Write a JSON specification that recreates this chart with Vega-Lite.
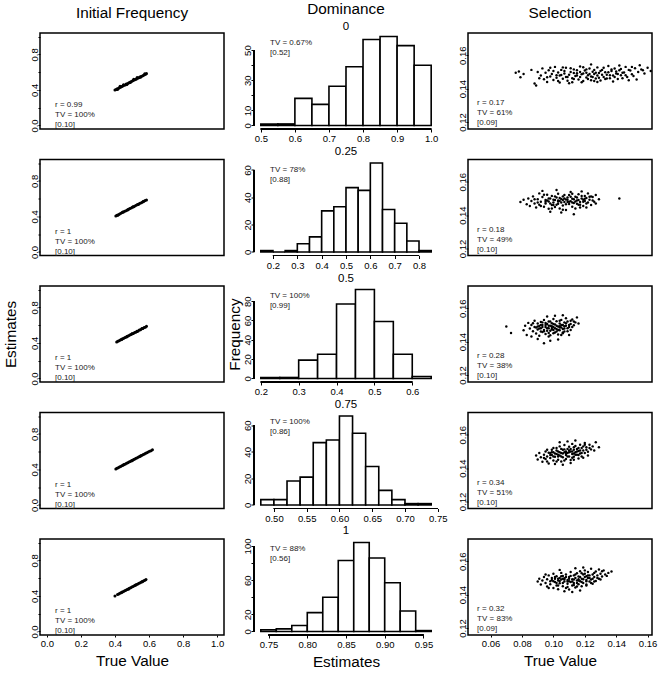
{
"$schema": "https://vega.github.io/schema/vega-lite/v6.json",
"background": "white",
"padding": {"left": 2, "top": 2, "right": 2, "bottom": 1},
"columns": 3,
"bounds": "flush",
"spacing": {"row": 30.5, "column": 30},
"config": {
 "font": "Liberation Sans",
 "view": {"stroke": "black", "strokeWidth": 1.5},
 "axis": {"domainColor": "black", "tickColor": "black", "labelColor": "black", "titleColor": "black", "labelFontSize": 9.5, "titleFontSize": 15.3, "titleFontWeight": "normal", "tickSize": 3, "grid": false, "labelFont": "Liberation Sans", "titleFont": "Liberation Sans", "domainWidth": 1.2, "tickWidth": 1, "labelFlush": false, "labelOverlap": false, "labelBound": false, "labelPadding": 1.5, "tickCount": 50},
 "axisY": {"labelAngle": -90, "labelAlign": "center", "labelBaseline": "alphabetic"},
 "title": {"font": "Liberation Sans", "fontWeight": "normal", "color": "black", "fontSize": 11.5, "anchor": "middle", "offset": 2, "subtitleFont": "Liberation Sans", "subtitleFontSize": 11.5, "subtitleColor": "black", "subtitlePadding": 0}
},
"datasets": {
 "freq1": [{"truth":0.400,"estimate":0.398},{"truth":0.407,"estimate":0.404},{"truth":0.413,"estimate":0.412},{"truth":0.420,"estimate":0.416},{"truth":0.426,"estimate":0.425},{"truth":0.433,"estimate":0.430},{"truth":0.440,"estimate":0.438},{"truth":0.446,"estimate":0.444},{"truth":0.453,"estimate":0.451},{"truth":0.460,"estimate":0.456},{"truth":0.466,"estimate":0.465},{"truth":0.473,"estimate":0.470},{"truth":0.480,"estimate":0.478},{"truth":0.486,"estimate":0.483},{"truth":0.493,"estimate":0.491},{"truth":0.500,"estimate":0.497},{"truth":0.506,"estimate":0.505},{"truth":0.513,"estimate":0.510},{"truth":0.520,"estimate":0.518},{"truth":0.526,"estimate":0.523},{"truth":0.533,"estimate":0.531},{"truth":0.540,"estimate":0.536},{"truth":0.546,"estimate":0.545},{"truth":0.553,"estimate":0.550},{"truth":0.560,"estimate":0.557},{"truth":0.566,"estimate":0.563},{"truth":0.573,"estimate":0.571},{"truth":0.580,"estimate":0.576},{"truth":0.585,"estimate":0.583},{"truth":0.430,"estimate":0.440},{"truth":0.470,"estimate":0.462},{"truth":0.510,"estimate":0.520},{"truth":0.550,"estimate":0.541},{"truth":0.450,"estimate":0.459},{"truth":0.490,"estimate":0.482},{"truth":0.530,"estimate":0.539},{"truth":0.415,"estimate":0.405},{"truth":0.575,"estimate":0.582}],
 "freq2": [{"truth":0.405,"estimate":0.404},{"truth":0.412,"estimate":0.413},{"truth":0.420,"estimate":0.419},{"truth":0.427,"estimate":0.428},{"truth":0.435,"estimate":0.434},{"truth":0.442,"estimate":0.443},{"truth":0.450,"estimate":0.449},{"truth":0.457,"estimate":0.458},{"truth":0.465,"estimate":0.464},{"truth":0.472,"estimate":0.473},{"truth":0.480,"estimate":0.479},{"truth":0.487,"estimate":0.488},{"truth":0.495,"estimate":0.494},{"truth":0.502,"estimate":0.503},{"truth":0.510,"estimate":0.509},{"truth":0.517,"estimate":0.518},{"truth":0.525,"estimate":0.524},{"truth":0.532,"estimate":0.533},{"truth":0.540,"estimate":0.539},{"truth":0.547,"estimate":0.548},{"truth":0.555,"estimate":0.554},{"truth":0.562,"estimate":0.563},{"truth":0.570,"estimate":0.569},{"truth":0.577,"estimate":0.578},{"truth":0.585,"estimate":0.584},{"truth":0.416,"estimate":0.414},{"truth":0.446,"estimate":0.448},{"truth":0.476,"estimate":0.474},{"truth":0.506,"estimate":0.508},{"truth":0.536,"estimate":0.534},{"truth":0.566,"estimate":0.568}],
 "freq3": [{"truth":0.410,"estimate":0.409},{"truth":0.417,"estimate":0.418},{"truth":0.424,"estimate":0.423},{"truth":0.431,"estimate":0.432},{"truth":0.438,"estimate":0.437},{"truth":0.445,"estimate":0.446},{"truth":0.452,"estimate":0.451},{"truth":0.459,"estimate":0.460},{"truth":0.466,"estimate":0.465},{"truth":0.473,"estimate":0.474},{"truth":0.480,"estimate":0.479},{"truth":0.487,"estimate":0.488},{"truth":0.494,"estimate":0.493},{"truth":0.501,"estimate":0.502},{"truth":0.508,"estimate":0.507},{"truth":0.515,"estimate":0.516},{"truth":0.522,"estimate":0.521},{"truth":0.529,"estimate":0.530},{"truth":0.536,"estimate":0.535},{"truth":0.543,"estimate":0.544},{"truth":0.550,"estimate":0.549},{"truth":0.557,"estimate":0.558},{"truth":0.564,"estimate":0.563},{"truth":0.571,"estimate":0.572},{"truth":0.578,"estimate":0.577},{"truth":0.585,"estimate":0.586},{"truth":0.440,"estimate":0.442},{"truth":0.470,"estimate":0.468},{"truth":0.500,"estimate":0.502},{"truth":0.530,"estimate":0.528},{"truth":0.560,"estimate":0.562}],
 "freq4": [{"truth":0.405,"estimate":0.404},{"truth":0.412,"estimate":0.413},{"truth":0.419,"estimate":0.418},{"truth":0.426,"estimate":0.427},{"truth":0.433,"estimate":0.432},{"truth":0.440,"estimate":0.441},{"truth":0.447,"estimate":0.446},{"truth":0.454,"estimate":0.455},{"truth":0.461,"estimate":0.460},{"truth":0.468,"estimate":0.469},{"truth":0.475,"estimate":0.474},{"truth":0.482,"estimate":0.483},{"truth":0.489,"estimate":0.488},{"truth":0.496,"estimate":0.497},{"truth":0.503,"estimate":0.502},{"truth":0.510,"estimate":0.511},{"truth":0.517,"estimate":0.516},{"truth":0.524,"estimate":0.525},{"truth":0.531,"estimate":0.530},{"truth":0.538,"estimate":0.539},{"truth":0.545,"estimate":0.544},{"truth":0.552,"estimate":0.553},{"truth":0.559,"estimate":0.558},{"truth":0.566,"estimate":0.567},{"truth":0.573,"estimate":0.572},{"truth":0.580,"estimate":0.581},{"truth":0.587,"estimate":0.586},{"truth":0.595,"estimate":0.596},{"truth":0.603,"estimate":0.604},{"truth":0.612,"estimate":0.611},{"truth":0.620,"estimate":0.621},{"truth":0.450,"estimate":0.452},{"truth":0.500,"estimate":0.498},{"truth":0.550,"estimate":0.552}],
 "freq5": [{"truth":0.400,"estimate":0.398},{"truth":0.415,"estimate":0.416},{"truth":0.422,"estimate":0.421},{"truth":0.429,"estimate":0.430},{"truth":0.436,"estimate":0.435},{"truth":0.443,"estimate":0.444},{"truth":0.450,"estimate":0.449},{"truth":0.457,"estimate":0.458},{"truth":0.464,"estimate":0.463},{"truth":0.471,"estimate":0.472},{"truth":0.478,"estimate":0.477},{"truth":0.485,"estimate":0.486},{"truth":0.492,"estimate":0.491},{"truth":0.499,"estimate":0.500},{"truth":0.506,"estimate":0.505},{"truth":0.513,"estimate":0.514},{"truth":0.520,"estimate":0.519},{"truth":0.527,"estimate":0.528},{"truth":0.534,"estimate":0.533},{"truth":0.541,"estimate":0.542},{"truth":0.548,"estimate":0.547},{"truth":0.555,"estimate":0.556},{"truth":0.562,"estimate":0.561},{"truth":0.569,"estimate":0.570},{"truth":0.576,"estimate":0.575},{"truth":0.582,"estimate":0.583},{"truth":0.440,"estimate":0.442},{"truth":0.480,"estimate":0.478},{"truth":0.520,"estimate":0.522},{"truth":0.560,"estimate":0.558}],
 "hist1": [{"bin_start":0.50,"bin_end":0.55,"count":1},{"bin_start":0.55,"bin_end":0.60,"count":1},{"bin_start":0.60,"bin_end":0.65,"count":18},{"bin_start":0.65,"bin_end":0.70,"count":14},{"bin_start":0.70,"bin_end":0.75,"count":26},{"bin_start":0.75,"bin_end":0.80,"count":39},{"bin_start":0.80,"bin_end":0.85,"count":57},{"bin_start":0.85,"bin_end":0.90,"count":59},{"bin_start":0.90,"bin_end":0.95,"count":53},{"bin_start":0.95,"bin_end":1.00,"count":40}],
 "hist2": [{"bin_start":0.15,"bin_end":0.20,"count":1},{"bin_start":0.20,"bin_end":0.25,"count":0},{"bin_start":0.25,"bin_end":0.30,"count":1},{"bin_start":0.30,"bin_end":0.35,"count":6},{"bin_start":0.35,"bin_end":0.40,"count":11},{"bin_start":0.40,"bin_end":0.45,"count":30},{"bin_start":0.45,"bin_end":0.50,"count":33},{"bin_start":0.50,"bin_end":0.55,"count":47},{"bin_start":0.55,"bin_end":0.60,"count":45},{"bin_start":0.60,"bin_end":0.65,"count":65},{"bin_start":0.65,"bin_end":0.70,"count":31},{"bin_start":0.70,"bin_end":0.75,"count":21},{"bin_start":0.75,"bin_end":0.80,"count":8},{"bin_start":0.80,"bin_end":0.85,"count":1}],
 "hist3": [{"bin_start":0.20,"bin_end":0.25,"count":1},{"bin_start":0.25,"bin_end":0.30,"count":1},{"bin_start":0.30,"bin_end":0.35,"count":19},{"bin_start":0.35,"bin_end":0.40,"count":25},{"bin_start":0.40,"bin_end":0.45,"count":77},{"bin_start":0.45,"bin_end":0.50,"count":92},{"bin_start":0.50,"bin_end":0.55,"count":59},{"bin_start":0.55,"bin_end":0.60,"count":25},{"bin_start":0.60,"bin_end":0.65,"count":2}],
 "hist4": [{"bin_start":0.48,"bin_end":0.50,"count":4},{"bin_start":0.50,"bin_end":0.52,"count":4},{"bin_start":0.52,"bin_end":0.54,"count":18},{"bin_start":0.54,"bin_end":0.56,"count":21},{"bin_start":0.56,"bin_end":0.58,"count":47},{"bin_start":0.58,"bin_end":0.60,"count":49},{"bin_start":0.60,"bin_end":0.62,"count":67},{"bin_start":0.62,"bin_end":0.64,"count":54},{"bin_start":0.64,"bin_end":0.66,"count":29},{"bin_start":0.66,"bin_end":0.68,"count":11},{"bin_start":0.68,"bin_end":0.70,"count":4},{"bin_start":0.70,"bin_end":0.72,"count":1},{"bin_start":0.72,"bin_end":0.74,"count":1}],
 "hist5": [{"bin_start":0.74,"bin_end":0.76,"count":2},{"bin_start":0.76,"bin_end":0.78,"count":3},{"bin_start":0.78,"bin_end":0.80,"count":7},{"bin_start":0.80,"bin_end":0.82,"count":22},{"bin_start":0.82,"bin_end":0.84,"count":40},{"bin_start":0.84,"bin_end":0.86,"count":83},{"bin_start":0.86,"bin_end":0.88,"count":104},{"bin_start":0.88,"bin_end":0.90,"count":86},{"bin_start":0.90,"bin_end":0.92,"count":57},{"bin_start":0.92,"bin_end":0.94,"count":24},{"bin_start":0.94,"bin_end":0.96,"count":1}],
 "sel1": [{"truth":0.076,"estimate":0.1495},{"truth":0.078,"estimate":0.1502},{"truth":0.079,"estimate":0.1468},{"truth":0.081,"estimate":0.1488},{"truth":0.088,"estimate":0.1430},{"truth":0.089,"estimate":0.1418},{"truth":0.092,"estimate":0.1478},{"truth":0.093,"estimate":0.1521},{"truth":0.094,"estimate":0.1456},{"truth":0.095,"estimate":0.1495},{"truth":0.096,"estimate":0.1440},{"truth":0.097,"estimate":0.1510},{"truth":0.098,"estimate":0.1472},{"truth":0.099,"estimate":0.1488},{"truth":0.100,"estimate":0.1452},{"truth":0.101,"estimate":0.1530},{"truth":0.102,"estimate":0.1465},{"truth":0.103,"estimate":0.1497},{"truth":0.104,"estimate":0.1478},{"truth":0.104,"estimate":0.1436},{"truth":0.105,"estimate":0.1512},{"truth":0.106,"estimate":0.1459},{"truth":0.107,"estimate":0.1490},{"truth":0.108,"estimate":0.1470},{"truth":0.108,"estimate":0.1525},{"truth":0.109,"estimate":0.1447},{"truth":0.110,"estimate":0.1483},{"truth":0.111,"estimate":0.1500},{"truth":0.112,"estimate":0.1462},{"truth":0.112,"estimate":0.1438},{"truth":0.113,"estimate":0.1515},{"truth":0.114,"estimate":0.1476},{"truth":0.115,"estimate":0.1492},{"truth":0.116,"estimate":0.1455},{"truth":0.117,"estimate":0.1532},{"truth":0.117,"estimate":0.1470},{"truth":0.118,"estimate":0.1486},{"truth":0.119,"estimate":0.1445},{"truth":0.120,"estimate":0.1508},{"truth":0.121,"estimate":0.1466},{"truth":0.121,"estimate":0.1495},{"truth":0.122,"estimate":0.1480},{"truth":0.123,"estimate":0.1520},{"truth":0.124,"estimate":0.1450},{"truth":0.124,"estimate":0.1472},{"truth":0.125,"estimate":0.1501},{"truth":0.126,"estimate":0.1488},{"truth":0.127,"estimate":0.1460},{"truth":0.128,"estimate":0.1527},{"truth":0.128,"estimate":0.1478},{"truth":0.129,"estimate":0.1494},{"truth":0.130,"estimate":0.1448},{"truth":0.131,"estimate":0.1512},{"truth":0.132,"estimate":0.1470},{"truth":0.133,"estimate":0.1498},{"truth":0.134,"estimate":0.1483},{"truth":0.135,"estimate":0.1535},{"truth":0.136,"estimate":0.1462},{"truth":0.137,"estimate":0.1505},{"truth":0.138,"estimate":0.1478},{"truth":0.139,"estimate":0.1520},{"truth":0.140,"estimate":0.1490},{"truth":0.141,"estimate":0.1458},{"truth":0.142,"estimate":0.1510},{"truth":0.143,"estimate":0.1480},{"truth":0.145,"estimate":0.1497},{"truth":0.146,"estimate":0.1530},{"truth":0.147,"estimate":0.1470},{"truth":0.149,"estimate":0.1508},{"truth":0.150,"estimate":0.1486},{"truth":0.152,"estimate":0.1522},{"truth":0.153,"estimate":0.1455},{"truth":0.154,"estimate":0.1500},{"truth":0.156,"estimate":0.1515},{"truth":0.158,"estimate":0.1490},{"truth":0.160,"estimate":0.1525},{"truth":0.162,"estimate":0.1505},{"truth":0.090,"estimate":0.1500},{"truth":0.091,"estimate":0.1462},{"truth":0.086,"estimate":0.1512},{"truth":0.100,"estimate":0.1505},{"truth":0.106,"estimate":0.1527},{"truth":0.110,"estimate":0.1432},{"truth":0.115,"estimate":0.1510},{"truth":0.119,"estimate":0.1528},{"truth":0.126,"estimate":0.1445},{"truth":0.133,"estimate":0.1458},{"truth":0.138,"estimate":0.1442},{"truth":0.144,"estimate":0.1462},{"truth":0.148,"estimate":0.1450},{"truth":0.103,"estimate":0.1445},{"truth":0.113,"estimate":0.1493},{"truth":0.105,"estimate":0.1482},{"truth":0.107,"estimate":0.1505},{"truth":0.109,"estimate":0.1470},{"truth":0.111,"estimate":0.1522},{"truth":0.113,"estimate":0.1458},{"truth":0.115,"estimate":0.1478},{"truth":0.117,"estimate":0.1500},{"truth":0.119,"estimate":0.1490},{"truth":0.121,"estimate":0.1515},{"truth":0.122,"estimate":0.1458},{"truth":0.123,"estimate":0.1487},{"truth":0.125,"estimate":0.1470},{"truth":0.126,"estimate":0.1512},{"truth":0.127,"estimate":0.1495},{"truth":0.129,"estimate":0.1465},{"truth":0.130,"estimate":0.1505},{"truth":0.131,"estimate":0.1483},{"truth":0.132,"estimate":0.1525},{"truth":0.134,"estimate":0.1460},{"truth":0.135,"estimate":0.1498},{"truth":0.136,"estimate":0.1480},{"truth":0.137,"estimate":0.1515},{"truth":0.139,"estimate":0.1470},{"truth":0.140,"estimate":0.1502},{"truth":0.141,"estimate":0.1488},{"truth":0.143,"estimate":0.1518},{"truth":0.144,"estimate":0.1495},{"truth":0.146,"estimate":0.1480},{"truth":0.148,"estimate":0.1512},{"truth":0.150,"estimate":0.1530},{"truth":0.151,"estimate":0.1475},{"truth":0.155,"estimate":0.1540},{"truth":0.157,"estimate":0.1510},{"truth":0.098,"estimate":0.1525},{"truth":0.102,"estimate":0.1480},{"truth":0.096,"estimate":0.1468},{"truth":0.118,"estimate":0.1438},{"truth":0.128,"estimate":0.1440},{"truth":0.142,"estimate":0.1538},{"truth":0.124,"estimate":0.1545}],
 "sel2": [{"truth":0.079,"estimate":0.1478},{"truth":0.081,"estimate":0.1492},{"truth":0.083,"estimate":0.1465},{"truth":0.084,"estimate":0.1500},{"truth":0.085,"estimate":0.1455},{"truth":0.086,"estimate":0.1485},{"truth":0.087,"estimate":0.1512},{"truth":0.088,"estimate":0.1470},{"truth":0.089,"estimate":0.1445},{"truth":0.090,"estimate":0.1495},{"truth":0.091,"estimate":0.1530},{"truth":0.091,"estimate":0.1462},{"truth":0.092,"estimate":0.1480},{"truth":0.093,"estimate":0.1508},{"truth":0.094,"estimate":0.1450},{"truth":0.095,"estimate":0.1490},{"truth":0.095,"estimate":0.1470},{"truth":0.096,"estimate":0.1522},{"truth":0.097,"estimate":0.1438},{"truth":0.097,"estimate":0.1482},{"truth":0.098,"estimate":0.1500},{"truth":0.099,"estimate":0.1460},{"truth":0.099,"estimate":0.1515},{"truth":0.100,"estimate":0.1475},{"truth":0.101,"estimate":0.1490},{"truth":0.101,"estimate":0.1448},{"truth":0.102,"estimate":0.1505},{"truth":0.103,"estimate":0.1468},{"truth":0.103,"estimate":0.1528},{"truth":0.104,"estimate":0.1485},{"truth":0.104,"estimate":0.1440},{"truth":0.105,"estimate":0.1497},{"truth":0.106,"estimate":0.1458},{"truth":0.106,"estimate":0.1512},{"truth":0.107,"estimate":0.1478},{"truth":0.108,"estimate":0.1493},{"truth":0.108,"estimate":0.1430},{"truth":0.109,"estimate":0.1505},{"truth":0.110,"estimate":0.1466},{"truth":0.110,"estimate":0.1520},{"truth":0.111,"estimate":0.1483},{"truth":0.112,"estimate":0.1450},{"truth":0.112,"estimate":0.1498},{"truth":0.113,"estimate":0.1472},{"truth":0.114,"estimate":0.1510},{"truth":0.114,"estimate":0.1440},{"truth":0.115,"estimate":0.1488},{"truth":0.116,"estimate":0.1462},{"truth":0.116,"estimate":0.1525},{"truth":0.117,"estimate":0.1478},{"truth":0.118,"estimate":0.1500},{"truth":0.119,"estimate":0.1455},{"truth":0.120,"estimate":0.1515},{"truth":0.120,"estimate":0.1485},{"truth":0.121,"estimate":0.1470},{"truth":0.122,"estimate":0.1530},{"truth":0.123,"estimate":0.1492},{"truth":0.124,"estimate":0.1460},{"truth":0.125,"estimate":0.1508},{"truth":0.126,"estimate":0.1480},{"truth":0.127,"estimate":0.1520},{"truth":0.129,"estimate":0.1495},{"truth":0.142,"estimate":0.1500},{"truth":0.093,"estimate":0.1545},{"truth":0.102,"estimate":0.1550},{"truth":0.111,"estimate":0.1538},{"truth":0.118,"estimate":0.1542},{"truth":0.098,"estimate":0.1420},{"truth":0.105,"estimate":0.1415},{"truth":0.113,"estimate":0.1405},{"truth":0.100,"estimate":0.1460},{"truth":0.107,"estimate":0.1500},{"truth":0.115,"estimate":0.1468},{"truth":0.096,"estimate":0.1488},{"truth":0.109,"estimate":0.1478},{"truth":0.119,"estimate":0.1492},{"truth":0.124,"estimate":0.1512},{"truth":0.088,"estimate":0.1495},{"truth":0.121,"estimate":0.1445},{"truth":0.103,"estimate":0.1482},{"truth":0.095,"estimate":0.1480},{"truth":0.097,"estimate":0.1500},{"truth":0.098,"estimate":0.1470},{"truth":0.100,"estimate":0.1492},{"truth":0.101,"estimate":0.1512},{"truth":0.102,"estimate":0.1462},{"truth":0.103,"estimate":0.1488},{"truth":0.104,"estimate":0.1503},{"truth":0.105,"estimate":0.1475},{"truth":0.106,"estimate":0.1490},{"truth":0.107,"estimate":0.1520},{"truth":0.108,"estimate":0.1465},{"truth":0.109,"estimate":0.1492},{"truth":0.110,"estimate":0.1480},{"truth":0.111,"estimate":0.1510},{"truth":0.112,"estimate":0.1475},{"truth":0.113,"estimate":0.1495},{"truth":0.114,"estimate":0.1482},{"truth":0.115,"estimate":0.1505},{"truth":0.116,"estimate":0.1490},{"truth":0.117,"estimate":0.1462},{"truth":0.118,"estimate":0.1515},{"truth":0.119,"estimate":0.1480},{"truth":0.120,"estimate":0.1498},{"truth":0.122,"estimate":0.1475},{"truth":0.123,"estimate":0.1510},{"truth":0.125,"estimate":0.1488},{"truth":0.127,"estimate":0.1470},{"truth":0.090,"estimate":0.1475},{"truth":0.092,"estimate":0.1455},{"truth":0.094,"estimate":0.1522},{"truth":0.099,"estimate":0.1440},{"truth":0.106,"estimate":0.1432},{"truth":0.112,"estimate":0.1528},{"truth":0.117,"estimate":0.1445},{"truth":0.121,"estimate":0.1502}],
 "sel3": [{"truth":0.070,"estimate":0.1490},{"truth":0.073,"estimate":0.1452},{"truth":0.081,"estimate":0.1468},{"truth":0.082,"estimate":0.1495},{"truth":0.083,"estimate":0.1440},{"truth":0.084,"estimate":0.1512},{"truth":0.085,"estimate":0.1478},{"truth":0.086,"estimate":0.1430},{"truth":0.086,"estimate":0.1500},{"truth":0.087,"estimate":0.1462},{"truth":0.088,"estimate":0.1488},{"truth":0.088,"estimate":0.1525},{"truth":0.089,"estimate":0.1448},{"truth":0.090,"estimate":0.1472},{"truth":0.090,"estimate":0.1508},{"truth":0.091,"estimate":0.1493},{"truth":0.091,"estimate":0.1435},{"truth":0.092,"estimate":0.1480},{"truth":0.092,"estimate":0.1518},{"truth":0.093,"estimate":0.1458},{"truth":0.093,"estimate":0.1500},{"truth":0.094,"estimate":0.1470},{"truth":0.094,"estimate":0.1530},{"truth":0.095,"estimate":0.1488},{"truth":0.095,"estimate":0.1445},{"truth":0.096,"estimate":0.1505},{"truth":0.096,"estimate":0.1465},{"truth":0.097,"estimate":0.1520},{"truth":0.097,"estimate":0.1480},{"truth":0.098,"estimate":0.1495},{"truth":0.098,"estimate":0.1438},{"truth":0.099,"estimate":0.1510},{"truth":0.099,"estimate":0.1472},{"truth":0.100,"estimate":0.1535},{"truth":0.100,"estimate":0.1488},{"truth":0.101,"estimate":0.1455},{"truth":0.101,"estimate":0.1502},{"truth":0.102,"estimate":0.1475},{"truth":0.102,"estimate":0.1522},{"truth":0.103,"estimate":0.1490},{"truth":0.103,"estimate":0.1442},{"truth":0.104,"estimate":0.1508},{"truth":0.104,"estimate":0.1468},{"truth":0.105,"estimate":0.1530},{"truth":0.105,"estimate":0.1485},{"truth":0.106,"estimate":0.1500},{"truth":0.106,"estimate":0.1450},{"truth":0.107,"estimate":0.1515},{"truth":0.107,"estimate":0.1478},{"truth":0.108,"estimate":0.1540},{"truth":0.108,"estimate":0.1495},{"truth":0.109,"estimate":0.1462},{"truth":0.109,"estimate":0.1520},{"truth":0.110,"estimate":0.1488},{"truth":0.111,"estimate":0.1505},{"truth":0.111,"estimate":0.1470},{"truth":0.112,"estimate":0.1532},{"truth":0.113,"estimate":0.1498},{"truth":0.114,"estimate":0.1515},{"truth":0.115,"estimate":0.1545},{"truth":0.116,"estimate":0.1508},{"truth":0.094,"estimate":0.1390},{"truth":0.098,"estimate":0.1405},{"truth":0.090,"estimate":0.1415},{"truth":0.103,"estimate":0.1412},{"truth":0.096,"estimate":0.1550},{"truth":0.101,"estimate":0.1555},{"truth":0.106,"estimate":0.1558},{"truth":0.089,"estimate":0.1485},{"truth":0.092,"estimate":0.1460},{"truth":0.097,"estimate":0.1452},{"truth":0.100,"estimate":0.1470},{"truth":0.104,"estimate":0.1492},{"truth":0.107,"estimate":0.1460},{"truth":0.110,"estimate":0.1440},{"truth":0.087,"estimate":0.1510},{"truth":0.095,"estimate":0.1512},{"truth":0.099,"estimate":0.1492},{"truth":0.102,"estimate":0.1460},{"truth":0.105,"estimate":0.1440},{"truth":0.091,"estimate":0.1478},{"truth":0.092,"estimate":0.1500},{"truth":0.093,"estimate":0.1488},{"truth":0.094,"estimate":0.1462},{"truth":0.095,"estimate":0.1500},{"truth":0.096,"estimate":0.1480},{"truth":0.097,"estimate":0.1495},{"truth":0.098,"estimate":0.1465},{"truth":0.099,"estimate":0.1482},{"truth":0.100,"estimate":0.1505},{"truth":0.101,"estimate":0.1480},{"truth":0.102,"estimate":0.1495},{"truth":0.103,"estimate":0.1470},{"truth":0.104,"estimate":0.1485},{"truth":0.105,"estimate":0.1500},{"truth":0.106,"estimate":0.1475},{"truth":0.107,"estimate":0.1492},{"truth":0.108,"estimate":0.1510},{"truth":0.109,"estimate":0.1480},{"truth":0.110,"estimate":0.1500},{"truth":0.112,"estimate":0.1488},{"truth":0.113,"estimate":0.1520},{"truth":0.100,"estimate":0.1450},{"truth":0.097,"estimate":0.1430},{"truth":0.104,"estimate":0.1525},{"truth":0.093,"estimate":0.1515},{"truth":0.090,"estimate":0.1490},{"truth":0.111,"estimate":0.1525},{"truth":0.106,"estimate":0.1455},{"truth":0.098,"estimate":0.1520}],
 "sel4": [{"truth":0.089,"estimate":0.1475},{"truth":0.090,"estimate":0.1452},{"truth":0.091,"estimate":0.1490},{"truth":0.092,"estimate":0.1465},{"truth":0.093,"estimate":0.1438},{"truth":0.094,"estimate":0.1480},{"truth":0.095,"estimate":0.1500},{"truth":0.095,"estimate":0.1455},{"truth":0.096,"estimate":0.1470},{"truth":0.097,"estimate":0.1428},{"truth":0.097,"estimate":0.1492},{"truth":0.098,"estimate":0.1460},{"truth":0.099,"estimate":0.1510},{"truth":0.099,"estimate":0.1478},{"truth":0.100,"estimate":0.1445},{"truth":0.100,"estimate":0.1495},{"truth":0.101,"estimate":0.1468},{"truth":0.102,"estimate":0.1520},{"truth":0.102,"estimate":0.1485},{"truth":0.103,"estimate":0.1450},{"truth":0.103,"estimate":0.1500},{"truth":0.104,"estimate":0.1475},{"truth":0.104,"estimate":0.1530},{"truth":0.105,"estimate":0.1490},{"truth":0.105,"estimate":0.1440},{"truth":0.106,"estimate":0.1510},{"truth":0.106,"estimate":0.1465},{"truth":0.107,"estimate":0.1495},{"truth":0.107,"estimate":0.1538},{"truth":0.108,"estimate":0.1478},{"truth":0.108,"estimate":0.1455},{"truth":0.109,"estimate":0.1515},{"truth":0.109,"estimate":0.1490},{"truth":0.110,"estimate":0.1470},{"truth":0.110,"estimate":0.1528},{"truth":0.111,"estimate":0.1500},{"truth":0.111,"estimate":0.1448},{"truth":0.112,"estimate":0.1485},{"truth":0.112,"estimate":0.1545},{"truth":0.113,"estimate":0.1510},{"truth":0.113,"estimate":0.1468},{"truth":0.114,"estimate":0.1495},{"truth":0.114,"estimate":0.1532},{"truth":0.115,"estimate":0.1480},{"truth":0.115,"estimate":0.1515},{"truth":0.116,"estimate":0.1458},{"truth":0.116,"estimate":0.1502},{"truth":0.117,"estimate":0.1540},{"truth":0.117,"estimate":0.1488},{"truth":0.118,"estimate":0.1520},{"truth":0.118,"estimate":0.1470},{"truth":0.119,"estimate":0.1505},{"truth":0.120,"estimate":0.1550},{"truth":0.120,"estimate":0.1490},{"truth":0.121,"estimate":0.1525},{"truth":0.122,"estimate":0.1498},{"truth":0.123,"estimate":0.1540},{"truth":0.124,"estimate":0.1512},{"truth":0.125,"estimate":0.1530},{"truth":0.126,"estimate":0.1505},{"truth":0.127,"estimate":0.1555},{"truth":0.129,"estimate":0.1525},{"truth":0.101,"estimate":0.1425},{"truth":0.106,"estimate":0.1420},{"truth":0.111,"estimate":0.1430},{"truth":0.104,"estimate":0.1555},{"truth":0.109,"estimate":0.1560},{"truth":0.114,"estimate":0.1565},{"truth":0.098,"estimate":0.1490},{"truth":0.103,"estimate":0.1470},{"truth":0.108,"estimate":0.1500},{"truth":0.113,"estimate":0.1488},{"truth":0.116,"estimate":0.1478},{"truth":0.119,"estimate":0.1462},{"truth":0.110,"estimate":0.1505},{"truth":0.105,"estimate":0.1515},{"truth":0.100,"estimate":0.1520},{"truth":0.096,"estimate":0.1510},{"truth":0.122,"estimate":0.1475},{"truth":0.112,"estimate":0.1462},{"truth":0.098,"estimate":0.1478},{"truth":0.099,"estimate":0.1495},{"truth":0.100,"estimate":0.1470},{"truth":0.101,"estimate":0.1488},{"truth":0.102,"estimate":0.1505},{"truth":0.103,"estimate":0.1480},{"truth":0.104,"estimate":0.1495},{"truth":0.105,"estimate":0.1470},{"truth":0.106,"estimate":0.1488},{"truth":0.107,"estimate":0.1512},{"truth":0.108,"estimate":0.1490},{"truth":0.109,"estimate":0.1470},{"truth":0.110,"estimate":0.1495},{"truth":0.111,"estimate":0.1515},{"truth":0.112,"estimate":0.1500},{"truth":0.113,"estimate":0.1525},{"truth":0.114,"estimate":0.1480},{"truth":0.115,"estimate":0.1500},{"truth":0.116,"estimate":0.1520},{"truth":0.117,"estimate":0.1505},{"truth":0.118,"estimate":0.1490},{"truth":0.119,"estimate":0.1530},{"truth":0.121,"estimate":0.1510},{"truth":0.123,"estimate":0.1520},{"truth":0.094,"estimate":0.1460},{"truth":0.096,"estimate":0.1440},{"truth":0.102,"estimate":0.1440},{"truth":0.107,"estimate":0.1445},{"truth":0.113,"estimate":0.1450},{"truth":0.120,"estimate":0.1540}],
 "sel5": [{"truth":0.090,"estimate":0.1478},{"truth":0.091,"estimate":0.1495},{"truth":0.092,"estimate":0.1460},{"truth":0.093,"estimate":0.1485},{"truth":0.094,"estimate":0.1505},{"truth":0.095,"estimate":0.1470},{"truth":0.096,"estimate":0.1448},{"truth":0.096,"estimate":0.1492},{"truth":0.097,"estimate":0.1515},{"truth":0.098,"estimate":0.1462},{"truth":0.098,"estimate":0.1480},{"truth":0.099,"estimate":0.1500},{"truth":0.100,"estimate":0.1440},{"truth":0.100,"estimate":0.1525},{"truth":0.101,"estimate":0.1475},{"truth":0.101,"estimate":0.1495},{"truth":0.102,"estimate":0.1455},{"truth":0.102,"estimate":0.1510},{"truth":0.103,"estimate":0.1485},{"truth":0.103,"estimate":0.1432},{"truth":0.104,"estimate":0.1500},{"truth":0.104,"estimate":0.1468},{"truth":0.105,"estimate":0.1530},{"truth":0.105,"estimate":0.1490},{"truth":0.106,"estimate":0.1450},{"truth":0.106,"estimate":0.1512},{"truth":0.107,"estimate":0.1478},{"truth":0.107,"estimate":0.1498},{"truth":0.108,"estimate":0.1440},{"truth":0.108,"estimate":0.1520},{"truth":0.109,"estimate":0.1465},{"truth":0.109,"estimate":0.1488},{"truth":0.110,"estimate":0.1505},{"truth":0.110,"estimate":0.1430},{"truth":0.111,"estimate":0.1475},{"truth":0.111,"estimate":0.1535},{"truth":0.112,"estimate":0.1492},{"truth":0.112,"estimate":0.1455},{"truth":0.113,"estimate":0.1515},{"truth":0.113,"estimate":0.1470},{"truth":0.114,"estimate":0.1500},{"truth":0.114,"estimate":0.1442},{"truth":0.115,"estimate":0.1528},{"truth":0.115,"estimate":0.1485},{"truth":0.116,"estimate":0.1462},{"truth":0.116,"estimate":0.1508},{"truth":0.117,"estimate":0.1540},{"truth":0.117,"estimate":0.1480},{"truth":0.118,"estimate":0.1495},{"truth":0.118,"estimate":0.1450},{"truth":0.119,"estimate":0.1520},{"truth":0.119,"estimate":0.1470},{"truth":0.120,"estimate":0.1505},{"truth":0.120,"estimate":0.1545},{"truth":0.121,"estimate":0.1488},{"truth":0.121,"estimate":0.1460},{"truth":0.122,"estimate":0.1515},{"truth":0.122,"estimate":0.1535},{"truth":0.123,"estimate":0.1478},{"truth":0.123,"estimate":0.1500},{"truth":0.124,"estimate":0.1555},{"truth":0.124,"estimate":0.1490},{"truth":0.125,"estimate":0.1520},{"truth":0.125,"estimate":0.1465},{"truth":0.126,"estimate":0.1505},{"truth":0.127,"estimate":0.1538},{"truth":0.127,"estimate":0.1482},{"truth":0.128,"estimate":0.1515},{"truth":0.129,"estimate":0.1550},{"truth":0.129,"estimate":0.1495},{"truth":0.130,"estimate":0.1525},{"truth":0.131,"estimate":0.1508},{"truth":0.132,"estimate":0.1545},{"truth":0.133,"estimate":0.1520},{"truth":0.135,"estimate":0.1530},{"truth":0.137,"estimate":0.1538},{"truth":0.107,"estimate":0.1420},{"truth":0.112,"estimate":0.1415},{"truth":0.117,"estimate":0.1425},{"truth":0.114,"estimate":0.1558},{"truth":0.119,"estimate":0.1562},{"truth":0.104,"estimate":0.1548},{"truth":0.110,"estimate":0.1480},{"truth":0.116,"estimate":0.1492},{"truth":0.121,"estimate":0.1510},{"truth":0.099,"estimate":0.1488},{"truth":0.113,"estimate":0.1458},{"truth":0.118,"estimate":0.1528},{"truth":0.106,"estimate":0.1495},{"truth":0.126,"estimate":0.1478},{"truth":0.100,"estimate":0.1480},{"truth":0.101,"estimate":0.1505},{"truth":0.102,"estimate":0.1470},{"truth":0.103,"estimate":0.1495},{"truth":0.104,"estimate":0.1482},{"truth":0.105,"estimate":0.1510},{"truth":0.106,"estimate":0.1470},{"truth":0.107,"estimate":0.1490},{"truth":0.108,"estimate":0.1505},{"truth":0.109,"estimate":0.1478},{"truth":0.110,"estimate":0.1495},{"truth":0.111,"estimate":0.1512},{"truth":0.112,"estimate":0.1478},{"truth":0.113,"estimate":0.1490},{"truth":0.114,"estimate":0.1520},{"truth":0.115,"estimate":0.1470},{"truth":0.116,"estimate":0.1485},{"truth":0.117,"estimate":0.1505},{"truth":0.118,"estimate":0.1475},{"truth":0.119,"estimate":0.1492},{"truth":0.120,"estimate":0.1525},{"truth":0.121,"estimate":0.1480},{"truth":0.122,"estimate":0.1500},{"truth":0.123,"estimate":0.1515},{"truth":0.124,"estimate":0.1470},{"truth":0.125,"estimate":0.1495},{"truth":0.126,"estimate":0.1530},{"truth":0.128,"estimate":0.1500},{"truth":0.130,"estimate":0.1490},{"truth":0.131,"estimate":0.1540},{"truth":0.134,"estimate":0.1512},{"truth":0.095,"estimate":0.1520},{"truth":0.097,"estimate":0.1440},{"truth":0.103,"estimate":0.1455},{"truth":0.109,"estimate":0.1445},{"truth":0.115,"estimate":0.1448},{"truth":0.121,"estimate":0.1455}]
},
"concat": [
 {"width": 184, "height": 96, "title": {"text": "Initial Frequency", "fontSize": 15.3, "offset": 12}, "data": {"name": "freq1"},
  "layer": [
   {"mark": {"type": "circle", "size": 9, "color": "black", "opacity": 1},
    "encoding": {"x": {"field": "truth", "type": "quantitative", "scale": {"domain": [-0.04, 1.04], "nice": false, "zero": false}, "axis": null},
     "y": {"field": "estimate", "type": "quantitative", "scale": {"domain": [-0.04, 1.04], "nice": false, "zero": false}, "axis": {"values": [0, 0.2, 0.4, 0.6, 0.8, 1], "tickCount": 50, "format": ".1f", "labelExpr": "(datum.value == 0.2 || datum.value == 0.6 || datum.value == 1) ? '' : datum.label", "title": null, "domain": false, "tickSize": 2, "labelPadding": 0.5}}}},
   {"data": {"values": [{"label": "r = 0.99\nTV = 100%\n[0.10]"}]}, "mark": {"type": "text", "align": "left", "baseline": "top", "fontSize": 8, "lineHeight": 10, "lineBreak": "\n", "color": "#222"},
    "encoding": {"text": {"field": "label"}, "x": {"datum": 0.048}, "y": {"datum": 0.27}}}
  ]},
 {"width": 184, "height": 96, "view": {"stroke": null}, "title": {"text": "Dominance", "fontSize": 15.3, "subtitle": "0", "offset": 1}, "data": {"name": "hist1"},
  "layer": [
   {"mark": {"type": "rect", "fill": "white", "stroke": "black", "strokeWidth": 1.6},
    "encoding": {"x": {"field": "bin_start", "type": "quantitative", "scale": {"domain": [0.48, 1.02], "nice": false, "zero": false}, "axis": {"values": [0.5, 0.6, 0.7, 0.8, 0.9, 1.0], "tickCount": 50, "format": ".1f", "title": null, "domain": false}},
     "x2": {"field": "bin_end"},
     "y": {"field": "count", "type": "quantitative", "scale": {"domain": [-2.36, 61.36], "nice": false, "zero": false}, "axis": {"values": [0, 10, 20, 30, 40, 50], "tickCount": 50, "labelExpr": "(datum.value == 20 || datum.value == 40) ? '' : datum.label", "title": null, "labelPadding": 1, "domain": false}},
     "y2": {"datum": 0}}},
   {"mark": {"type": "rule", "color": "black", "strokeWidth": 1.2}, "encoding": {"x": {"datum": 0.5}, "x2": {"datum": 1.0}, "y": {"datum": -2.36}}},
   {"mark": {"type": "rule", "color": "black", "strokeWidth": 1.2}, "encoding": {"x": {"datum": 0.48}, "y": {"datum": 0}, "y2": {"datum": 50}}},
   {"data": {"values": [{"label": "TV = 0.67%\n[0.52]"}]}, "mark": {"type": "text", "align": "left", "baseline": "top", "fontSize": 8, "lineHeight": 10, "lineBreak": "\n", "color": "#222"},
    "encoding": {"text": {"field": "label"}, "x": {"datum": 0.527}, "y": {"datum": 57.4}}}
  ]},
 {"width": 184, "height": 96, "title": {"text": "Selection", "fontSize": 15.3, "offset": 12}, "data": {"name": "sel1"},
  "layer": [
   {"mark": {"type": "circle", "size": 6, "color": "black", "opacity": 1},
    "encoding": {"x": {"field": "truth", "type": "quantitative", "scale": {"domain": [0.0456, 0.1628], "nice": false, "zero": false}, "axis": null},
     "y": {"field": "estimate", "type": "quantitative", "scale": {"domain": [0.1158, 0.1733], "nice": false, "zero": false}, "axis": {"values": [0.12, 0.14, 0.16], "tickCount": 50, "format": ".2f", "title": null, "domain": false, "tickSize": 2, "labelPadding": 0.5}}}},
   {"data": {"values": [{"label": "r = 0.17\nTV = 61%\n[0.09]"}]}, "mark": {"type": "text", "align": "left", "baseline": "top", "fontSize": 8, "lineHeight": 10, "lineBreak": "\n", "color": "#222"},
    "encoding": {"text": {"field": "label"}, "x": {"datum": 0.0514}, "y": {"datum": 0.1336}}}
  ]},

 {"width": 184, "height": 96, "data": {"name": "freq2"},
  "layer": [
   {"mark": {"type": "circle", "size": 9, "color": "black", "opacity": 1},
    "encoding": {"x": {"field": "truth", "type": "quantitative", "scale": {"domain": [-0.04, 1.04], "nice": false, "zero": false}, "axis": null},
     "y": {"field": "estimate", "type": "quantitative", "scale": {"domain": [-0.04, 1.04], "nice": false, "zero": false}, "axis": {"values": [0, 0.2, 0.4, 0.6, 0.8, 1], "tickCount": 50, "format": ".1f", "labelExpr": "(datum.value == 0.2 || datum.value == 0.6 || datum.value == 1) ? '' : datum.label", "title": null, "domain": false, "tickSize": 2, "labelPadding": 0.5}}}},
   {"data": {"values": [{"label": "r = 1\nTV = 100%\n[0.10]"}]}, "mark": {"type": "text", "align": "left", "baseline": "top", "fontSize": 8, "lineHeight": 10, "lineBreak": "\n", "color": "#222"},
    "encoding": {"text": {"field": "label"}, "x": {"datum": 0.048}, "y": {"datum": 0.27}}}
  ]},
 {"width": 184, "height": 96, "view": {"stroke": null}, "title": {"text": "0.25"}, "data": {"name": "hist2"},
  "layer": [
   {"mark": {"type": "rect", "fill": "white", "stroke": "black", "strokeWidth": 1.6},
    "encoding": {"x": {"field": "bin_start", "type": "quantitative", "scale": {"domain": [0.122, 0.878], "nice": false, "zero": false}, "axis": {"values": [0.2, 0.3, 0.4, 0.5, 0.6, 0.7, 0.8], "tickCount": 50, "format": ".1f", "title": null, "domain": false}},
     "x2": {"field": "bin_end"},
     "y": {"field": "count", "type": "quantitative", "scale": {"domain": [-2.6, 67.6], "nice": false, "zero": false}, "axis": {"values": [0, 20, 40, 60], "tickCount": 50, "title": null, "labelPadding": 1, "domain": false}},
     "y2": {"datum": 0}}},
   {"mark": {"type": "rule", "color": "black", "strokeWidth": 1.2}, "encoding": {"x": {"datum": 0.2}, "x2": {"datum": 0.8}, "y": {"datum": -2.6}}},
   {"mark": {"type": "rule", "color": "black", "strokeWidth": 1.2}, "encoding": {"x": {"datum": 0.122}, "y": {"datum": 0}, "y2": {"datum": 60}}},
   {"data": {"values": [{"label": "TV = 78%\n[0.88]"}]}, "mark": {"type": "text", "align": "left", "baseline": "top", "fontSize": 8, "lineHeight": 10, "lineBreak": "\n", "color": "#222"},
    "encoding": {"text": {"field": "label"}, "x": {"datum": 0.188}, "y": {"datum": 63.2}}}
  ]},
 {"width": 184, "height": 96, "data": {"name": "sel2"},
  "layer": [
   {"mark": {"type": "circle", "size": 6, "color": "black", "opacity": 1},
    "encoding": {"x": {"field": "truth", "type": "quantitative", "scale": {"domain": [0.0456, 0.1628], "nice": false, "zero": false}, "axis": null},
     "y": {"field": "estimate", "type": "quantitative", "scale": {"domain": [0.1158, 0.1733], "nice": false, "zero": false}, "axis": {"values": [0.12, 0.14, 0.16], "tickCount": 50, "format": ".2f", "title": null, "domain": false, "tickSize": 2, "labelPadding": 0.5}}}},
   {"data": {"values": [{"label": "r = 0.18\nTV = 49%\n[0.10]"}]}, "mark": {"type": "text", "align": "left", "baseline": "top", "fontSize": 8, "lineHeight": 10, "lineBreak": "\n", "color": "#222"},
    "encoding": {"text": {"field": "label"}, "x": {"datum": 0.0514}, "y": {"datum": 0.1336}}}
  ]},

 {"width": 184, "height": 96, "data": {"name": "freq3"},
  "layer": [
   {"mark": {"type": "circle", "size": 9, "color": "black", "opacity": 1},
    "encoding": {"x": {"field": "truth", "type": "quantitative", "scale": {"domain": [-0.04, 1.04], "nice": false, "zero": false}, "axis": null},
     "y": {"field": "estimate", "type": "quantitative", "scale": {"domain": [-0.04, 1.04], "nice": false, "zero": false}, "axis": {"values": [0, 0.2, 0.4, 0.6, 0.8, 1], "tickCount": 50, "format": ".1f", "labelExpr": "(datum.value == 0.2 || datum.value == 0.6 || datum.value == 1) ? '' : datum.label", "title": "Estimates", "titlePadding": 11, "domain": false, "tickSize": 2, "labelPadding": 0.5}}}},
   {"data": {"values": [{"label": "r = 1\nTV = 100%\n[0.10]"}]}, "mark": {"type": "text", "align": "left", "baseline": "top", "fontSize": 8, "lineHeight": 10, "lineBreak": "\n", "color": "#222"},
    "encoding": {"text": {"field": "label"}, "x": {"datum": 0.048}, "y": {"datum": 0.27}}}
  ]},
 {"width": 184, "height": 96, "view": {"stroke": null}, "title": {"text": "0.5"}, "data": {"name": "hist3"},
  "layer": [
   {"mark": {"type": "rect", "fill": "white", "stroke": "black", "strokeWidth": 1.6},
    "encoding": {"x": {"field": "bin_start", "type": "quantitative", "scale": {"domain": [0.182, 0.668], "nice": false, "zero": false}, "axis": {"values": [0.2, 0.3, 0.4, 0.5, 0.6], "tickCount": 50, "format": ".1f", "title": null, "domain": false}},
     "x2": {"field": "bin_end"},
     "y": {"field": "count", "type": "quantitative", "scale": {"domain": [-3.68, 95.68], "nice": false, "zero": false}, "axis": {"values": [0, 20, 40, 60, 80], "tickCount": 50, "title": "Frequency", "titlePadding": 0, "labelPadding": 1, "domain": false}},
     "y2": {"datum": 0}}},
   {"mark": {"type": "rule", "color": "black", "strokeWidth": 1.2}, "encoding": {"x": {"datum": 0.2}, "x2": {"datum": 0.6}, "y": {"datum": -3.68}}},
   {"mark": {"type": "rule", "color": "black", "strokeWidth": 1.2}, "encoding": {"x": {"datum": 0.182}, "y": {"datum": 0}, "y2": {"datum": 80}}},
   {"data": {"values": [{"label": "TV = 100%\n[0.99]"}]}, "mark": {"type": "text", "align": "left", "baseline": "top", "fontSize": 8, "lineHeight": 10, "lineBreak": "\n", "color": "#222"},
    "encoding": {"text": {"field": "label"}, "x": {"datum": 0.224}, "y": {"datum": 89.6}}}
  ]},
 {"width": 184, "height": 96, "data": {"name": "sel3"},
  "layer": [
   {"mark": {"type": "circle", "size": 6, "color": "black", "opacity": 1},
    "encoding": {"x": {"field": "truth", "type": "quantitative", "scale": {"domain": [0.0456, 0.1628], "nice": false, "zero": false}, "axis": null},
     "y": {"field": "estimate", "type": "quantitative", "scale": {"domain": [0.1158, 0.1733], "nice": false, "zero": false}, "axis": {"values": [0.12, 0.14, 0.16], "tickCount": 50, "format": ".2f", "title": null, "domain": false, "tickSize": 2, "labelPadding": 0.5}}}},
   {"data": {"values": [{"label": "r = 0.28\nTV = 38%\n[0.10]"}]}, "mark": {"type": "text", "align": "left", "baseline": "top", "fontSize": 8, "lineHeight": 10, "lineBreak": "\n", "color": "#222"},
    "encoding": {"text": {"field": "label"}, "x": {"datum": 0.0514}, "y": {"datum": 0.1336}}}
  ]},

 {"width": 184, "height": 96, "data": {"name": "freq4"},
  "layer": [
   {"mark": {"type": "circle", "size": 9, "color": "black", "opacity": 1},
    "encoding": {"x": {"field": "truth", "type": "quantitative", "scale": {"domain": [-0.04, 1.04], "nice": false, "zero": false}, "axis": null},
     "y": {"field": "estimate", "type": "quantitative", "scale": {"domain": [-0.04, 1.04], "nice": false, "zero": false}, "axis": {"values": [0, 0.2, 0.4, 0.6, 0.8, 1], "tickCount": 50, "format": ".1f", "labelExpr": "(datum.value == 0.2 || datum.value == 0.6 || datum.value == 1) ? '' : datum.label", "title": null, "domain": false, "tickSize": 2, "labelPadding": 0.5}}}},
   {"data": {"values": [{"label": "r = 1\nTV = 100%\n[0.10]"}]}, "mark": {"type": "text", "align": "left", "baseline": "top", "fontSize": 8, "lineHeight": 10, "lineBreak": "\n", "color": "#222"},
    "encoding": {"text": {"field": "label"}, "x": {"datum": 0.048}, "y": {"datum": 0.27}}}
  ]},
 {"width": 184, "height": 96, "view": {"stroke": null}, "title": {"text": "0.75"}, "data": {"name": "hist4"},
  "layer": [
   {"mark": {"type": "rect", "fill": "white", "stroke": "black", "strokeWidth": 1.6},
    "encoding": {"x": {"field": "bin_start", "type": "quantitative", "scale": {"domain": [0.4696, 0.7504], "nice": false, "zero": false}, "axis": {"values": [0.50, 0.55, 0.60, 0.65, 0.70, 0.75], "tickCount": 50, "format": ".2f", "title": null, "domain": false}},
     "x2": {"field": "bin_end"},
     "y": {"field": "count", "type": "quantitative", "scale": {"domain": [-2.68, 69.68], "nice": false, "zero": false}, "axis": {"values": [0, 20, 40, 60], "tickCount": 50, "title": null, "labelPadding": 1, "domain": false}},
     "y2": {"datum": 0}}},
   {"mark": {"type": "rule", "color": "black", "strokeWidth": 1.2}, "encoding": {"x": {"datum": 0.5}, "x2": {"datum": 0.75}, "y": {"datum": -2.68}}},
   {"mark": {"type": "rule", "color": "black", "strokeWidth": 1.2}, "encoding": {"x": {"datum": 0.4696}, "y": {"datum": 0}, "y2": {"datum": 60}}},
   {"data": {"values": [{"label": "TV = 100%\n[0.86]"}]}, "mark": {"type": "text", "align": "left", "baseline": "top", "fontSize": 8, "lineHeight": 10, "lineBreak": "\n", "color": "#222"},
    "encoding": {"text": {"field": "label"}, "x": {"datum": 0.494}, "y": {"datum": 65.2}}}
  ]},
 {"width": 184, "height": 96, "data": {"name": "sel4"},
  "layer": [
   {"mark": {"type": "circle", "size": 6, "color": "black", "opacity": 1},
    "encoding": {"x": {"field": "truth", "type": "quantitative", "scale": {"domain": [0.0456, 0.1628], "nice": false, "zero": false}, "axis": null},
     "y": {"field": "estimate", "type": "quantitative", "scale": {"domain": [0.1158, 0.1733], "nice": false, "zero": false}, "axis": {"values": [0.12, 0.14, 0.16], "tickCount": 50, "format": ".2f", "title": null, "domain": false, "tickSize": 2, "labelPadding": 0.5}}}},
   {"data": {"values": [{"label": "r = 0.34\nTV = 51%\n[0.10]"}]}, "mark": {"type": "text", "align": "left", "baseline": "top", "fontSize": 8, "lineHeight": 10, "lineBreak": "\n", "color": "#222"},
    "encoding": {"text": {"field": "label"}, "x": {"datum": 0.0514}, "y": {"datum": 0.1336}}}
  ]},

 {"width": 184, "height": 96, "data": {"name": "freq5"},
  "layer": [
   {"mark": {"type": "circle", "size": 9, "color": "black", "opacity": 1},
    "encoding": {"x": {"field": "truth", "type": "quantitative", "scale": {"domain": [-0.04, 1.04], "nice": false, "zero": false}, "axis": {"values": [0, 0.2, 0.4, 0.6, 0.8, 1], "tickCount": 50, "format": ".1f", "title": "True Value", "titlePadding": 5, "domain": false, "tickSize": 2, "labelPadding": 1.5}},
     "y": {"field": "estimate", "type": "quantitative", "scale": {"domain": [-0.04, 1.04], "nice": false, "zero": false}, "axis": {"values": [0, 0.2, 0.4, 0.6, 0.8, 1], "tickCount": 50, "format": ".1f", "labelExpr": "(datum.value == 0.2 || datum.value == 0.6 || datum.value == 1) ? '' : datum.label", "title": null, "domain": false, "tickSize": 2, "labelPadding": 0.5}}}},
   {"data": {"values": [{"label": "r = 1\nTV = 100%\n[0.10]"}]}, "mark": {"type": "text", "align": "left", "baseline": "top", "fontSize": 8, "lineHeight": 10, "lineBreak": "\n", "color": "#222"},
    "encoding": {"text": {"field": "label"}, "x": {"datum": 0.048}, "y": {"datum": 0.27}}}
  ]},
 {"width": 184, "height": 96, "view": {"stroke": null}, "title": {"text": "1"}, "data": {"name": "hist5"},
  "layer": [
   {"mark": {"type": "rect", "fill": "white", "stroke": "black", "strokeWidth": 1.6},
    "encoding": {"x": {"field": "bin_start", "type": "quantitative", "scale": {"domain": [0.7312, 0.9688], "nice": false, "zero": false}, "axis": {"values": [0.75, 0.80, 0.85, 0.90, 0.95], "tickCount": 50, "format": ".2f", "title": "Estimates", "titlePadding": 5, "domain": false}},
     "x2": {"field": "bin_end"},
     "y": {"field": "count", "type": "quantitative", "scale": {"domain": [-4.16, 108.16], "nice": false, "zero": false}, "axis": {"values": [0, 20, 40, 60, 80, 100], "tickCount": 50, "labelExpr": "(datum.value == 40 || datum.value == 80) ? '' : datum.label", "title": null, "labelPadding": 1, "domain": false}},
     "y2": {"datum": 0}}},
   {"mark": {"type": "rule", "color": "black", "strokeWidth": 1.2}, "encoding": {"x": {"datum": 0.75}, "x2": {"datum": 0.95}, "y": {"datum": -4.16}}},
   {"mark": {"type": "rule", "color": "black", "strokeWidth": 1.2}, "encoding": {"x": {"datum": 0.7312}, "y": {"datum": 0}, "y2": {"datum": 100}}},
   {"data": {"values": [{"label": "TV = 88%\n[0.56]"}]}, "mark": {"type": "text", "align": "left", "baseline": "top", "fontSize": 8, "lineHeight": 10, "lineBreak": "\n", "color": "#222"},
    "encoding": {"text": {"field": "label"}, "x": {"datum": 0.752}, "y": {"datum": 101.2}}}
  ]},
 {"width": 184, "height": 96, "data": {"name": "sel5"},
  "layer": [
   {"mark": {"type": "circle", "size": 6, "color": "black", "opacity": 1},
    "encoding": {"x": {"field": "truth", "type": "quantitative", "scale": {"domain": [0.0456, 0.1628], "nice": false, "zero": false}, "axis": {"values": [0.06, 0.08, 0.10, 0.12, 0.14, 0.16], "tickCount": 50, "format": ".2f", "title": "True Value", "titlePadding": 5, "domain": false, "tickSize": 2, "labelPadding": 1.5}},
     "y": {"field": "estimate", "type": "quantitative", "scale": {"domain": [0.1158, 0.1733], "nice": false, "zero": false}, "axis": {"values": [0.12, 0.14, 0.16], "tickCount": 50, "format": ".2f", "title": null, "domain": false, "tickSize": 2, "labelPadding": 0.5}}}},
   {"data": {"values": [{"label": "r = 0.32\nTV = 83%\n[0.09]"}]}, "mark": {"type": "text", "align": "left", "baseline": "top", "fontSize": 8, "lineHeight": 10, "lineBreak": "\n", "color": "#222"},
    "encoding": {"text": {"field": "label"}, "x": {"datum": 0.0514}, "y": {"datum": 0.1336}}}
  ]}
]
}
